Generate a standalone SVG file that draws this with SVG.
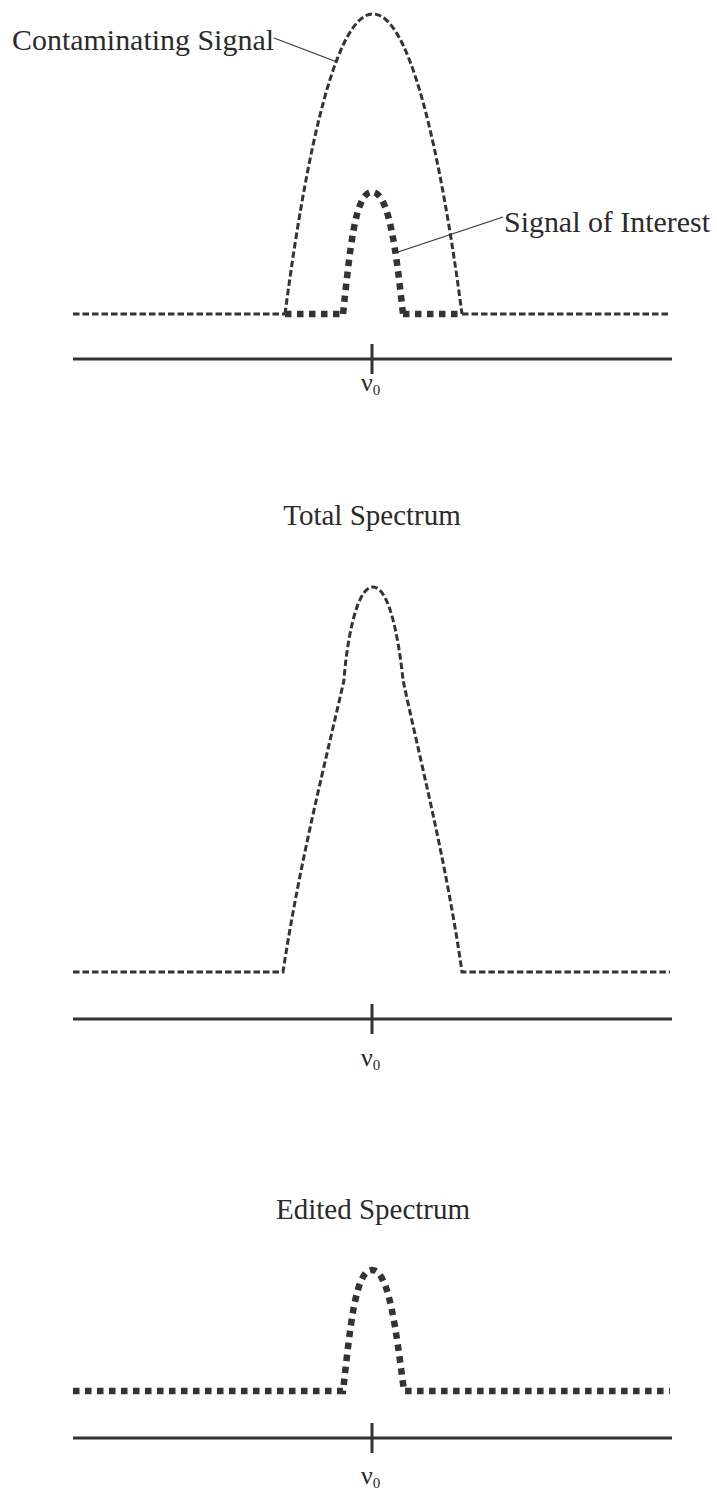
<svg xmlns="http://www.w3.org/2000/svg" width="717" height="1494" viewBox="0 0 717 1494">
<style>
.bg{fill:#ffffff}
.thin{fill:none;stroke:#333;stroke-width:3;stroke-dasharray:6.5 3}
.thick{fill:none;stroke:#333;stroke-width:6.5;stroke-dasharray:6.5 5.5}
.axis{fill:none;stroke:#333;stroke-width:3}
.lead{fill:none;stroke:#333;stroke-width:1.2}
.lbl{fill:#2a2a2a}
.nu{fill:#2a2a2a;font-size:26px}
</style>
<rect class="bg" x="0" y="0" width="717" height="1494"/>

<g id="panel1">
  <g id="contaminating-signal">
    <path class="thin" d="M73,314 L285,314"/>
    <path class="thin" d="M285,314 C300,200 330,14 373,14 C416,14 447,200 462,314"/>
    <path class="thin" d="M462,314 L670,314"/>
  </g>
  <g id="signal-of-interest">
    <path class="thick" d="M285,314 L343,314"/>
    <path class="thick" d="M343,314 C350,250 355,192 372,192 C389,192 396,250 403,314"/>
    <path class="thick" d="M403,314 L462,314"/>
  </g>
  <g id="axis1">
    <line class="axis" x1="73" y1="359" x2="672" y2="359"/>
    <line class="axis" x1="372" y1="344" x2="372" y2="374"/>
    <text class="nu" x="361" y="391" font-family="'Liberation Serif', 'DejaVu Serif', serif">ν<tspan font-size="15" dy="4">0</tspan></text>
  </g>
  <g id="label-contaminating">
    <text class="lbl" x="12" y="50" font-size="30" font-family="'Liberation Serif', 'DejaVu Serif', serif" textLength="262" lengthAdjust="spacingAndGlyphs">Contaminating Signal</text>
  </g>
  <g id="label-interest">
    <text class="lbl" x="504" y="232" font-size="30" font-family="'Liberation Serif', 'DejaVu Serif', serif" textLength="206" lengthAdjust="spacingAndGlyphs">Signal of Interest</text>
  </g>
</g>

<g id="connectors">
  <line class="lead" x1="274" y1="38" x2="337" y2="62"/>
  <line class="lead" x1="398" y1="252" x2="503" y2="217"/>
</g>

<g id="panel2">
  <g id="total-title">
    <text class="lbl" x="372" y="525" font-size="29" font-family="'Liberation Serif', 'DejaVu Serif', serif" text-anchor="middle">Total Spectrum</text>
  </g>
  <g id="total-curve">
    <path class="thin" d="M73,972 L283,972 C300,860 326,760 344,680 C346,650 355,587 373,587 C391,587 400,650 403,680 C420,760 446,860 462,972 L670,972"/>
  </g>
  <g id="axis2">
    <line class="axis" x1="73" y1="1019" x2="672" y2="1019"/>
    <line class="axis" x1="372" y1="1004" x2="372" y2="1034"/>
    <text class="nu" x="361" y="1066" font-family="'Liberation Serif', 'DejaVu Serif', serif">ν<tspan font-size="15" dy="4">0</tspan></text>
  </g>
</g>

<g id="panel3">
  <g id="edited-title">
    <text class="lbl" x="373" y="1219" font-size="29" font-family="'Liberation Serif', 'DejaVu Serif', serif" text-anchor="middle">Edited Spectrum</text>
  </g>
  <g id="edited-curve">
    <path class="thick" d="M73,1391 L343,1391 C350,1330 355,1270 372,1270 C389,1270 396,1330 404,1391 L670,1391"/>
  </g>
  <g id="axis3">
    <line class="axis" x1="73" y1="1438" x2="672" y2="1438"/>
    <line class="axis" x1="372" y1="1423" x2="372" y2="1453"/>
    <text class="nu" x="361" y="1484" font-family="'Liberation Serif', 'DejaVu Serif', serif">ν<tspan font-size="15" dy="4">0</tspan></text>
  </g>
</g>
</svg>
